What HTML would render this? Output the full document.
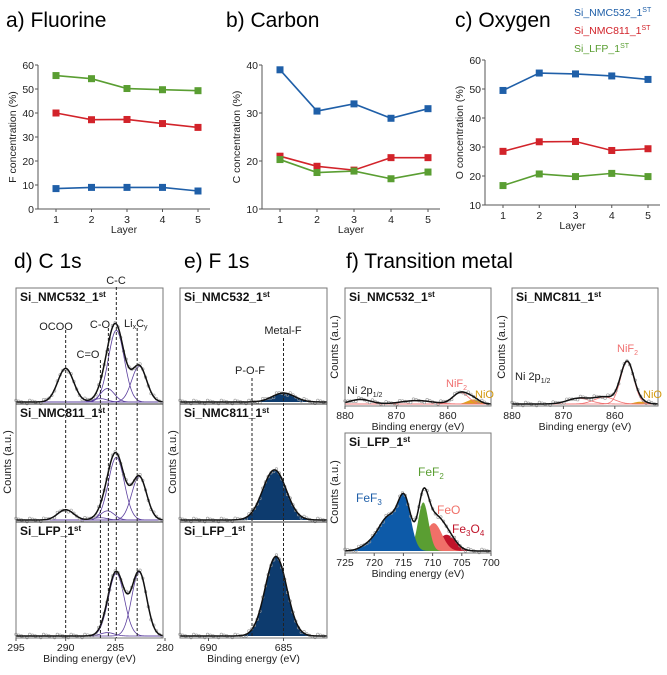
<!DOCTYPE html>
<html><head><meta charset="utf-8">
<style>
body{margin:0;background:#fff;width:667px;height:670px;overflow:hidden;font-family:"Liberation Sans",sans-serif}
svg text{font-family:"Liberation Sans",sans-serif}
</style></head>
<body>
<svg id="fig" width="667" height="670" viewBox="0 0 667 670" xmlns="http://www.w3.org/2000/svg">
<text x="6" y="27" font-size="21">a) Fluorine</text>
<text x="226" y="27" font-size="21">b) Carbon</text>
<text x="455" y="27" font-size="21">c) Oxygen</text>
<g font-size="10.5">
<text x="574" y="16" fill="#1f5fa8">Si_NMC532_1<tspan font-size="7" dy="-4">ST</tspan></text>
<text x="574" y="34" fill="#d2232a">Si_NMC811_1<tspan font-size="7" dy="-4">ST</tspan></text>
<text x="574" y="52" fill="#5a9e32">Si_LFP_1<tspan font-size="7" dy="-4">ST</tspan></text>
</g>
<text x="14" y="268" font-size="21">d) C 1s</text>
<text x="184" y="268" font-size="21">e) F 1s</text>
<text x="346" y="268" font-size="21">f) Transition metal</text>
<g id="root"></g>
</svg>
<script>
const layers=[1,2,3,4,5];
const fBlue=[8.5,9,9,9,7.5], fRed=[40,37.2,37.3,35.6,34], fGreen=[55.6,54.3,50.2,49.7,49.3];
const cBlue=[39,30.4,31.9,28.9,30.9], cRed=[21,18.9,18.1,20.7,20.7], cGreen=[20.3,17.6,17.9,16.3,17.7];
const oBlue=[49.5,55.5,55.2,54.5,53.3], oRed=[28.5,31.8,31.9,28.8,29.4], oGreen=[16.7,20.7,19.8,20.9,19.8];
const fTicks=[0,10,20,30,40,50,60], cTicks=[10,20,30,40], oTicks=[10,20,30,40,50,60];
// XPS peaks: [center eV, amplitude (fraction of panel height), sigma eV]
const c1sNMC532=[[290,0.3,0.8],[286.5,0.03,0.7],[285.8,0.12,0.7],[284.9,0.64,0.8],[282.6,0.32,0.75]];
const c1sNMC811=[[290,0.09,0.8],[286.5,0.02,0.7],[285.8,0.08,0.7],[284.9,0.55,0.8],[282.6,0.38,0.75]];
const c1sLFP=[[285.8,0.03,0.7],[284.9,0.56,0.8],[282.6,0.57,0.75]];
const f1sNMC532=[[685,0.08,0.75]];
const f1sNMC811=[[685.6,0.44,0.78]];
const f1sLFP=[[685.5,0.71,0.72]];
const niNMC532=[[877,0.04,2],[866,0.03,3],[857.5,0.1,1.5],[855,0.04,1.2]];
const niNMC811=[[876.5,0.11,1.6],[867,0.05,2.2],[862,0.06,2],[857.6,0.37,1.3],[855,0.02,1.2]];
const feF3=[[717.5,0.28,1.6],[714.8,0.42,1.1],[720.5,0.06,1.6]];
const feF2=[[711.6,0.42,0.9]];
const feO=[[709.8,0.24,1.4]];
const fe3O4=[[707.6,0.14,1.5]];

const NS="http://www.w3.org/2000/svg", root=document.getElementById('root');
function el(t,a,p){const e=document.createElementNS(NS,t);for(const k in a)e.setAttribute(k,a[k]);(p||root).appendChild(e);return e;}
function txt(x,y,s,a,p){const e=el('text',Object.assign({x:x,y:y,'font-size':10.5,fill:'#222'},a||{}),p);e.textContent=s;return e;}

function lineChart(name,x0,x1,y0,y1,ymin,ymax,ticks,ylabel,series){
  const g=el('g',{});  
  const sx=v=>x0+18+(v-1)*(x1-x0-30)/4, sy=v=>y1-(v-ymin)/(ymax-ymin)*(y1-y0);
  el('path',{d:`M${x0},${y0}V${y1}H${x1}`,stroke:'#555',fill:'none','stroke-width':1},g);
  ticks.forEach(t=>{el('line',{x1:x0-3,x2:x0,y1:sy(t),y2:sy(t),stroke:'#555'},g);const l=txt(x0-4,sy(t)+4,String(t),{'text-anchor':'end'},g);});
  layers.forEach(t=>{el('line',{x1:sx(t),x2:sx(t),y1:y1,y2:y1+3,stroke:'#555'},g);const l=txt(sx(t),y1+14,String(t),{'text-anchor':'middle'},g);});
  const xl=txt((x0+x1)/2,y1+24,'Layer',{'text-anchor':'middle'},g);
  const yl=txt(0,0,ylabel,{'text-anchor':'middle',transform:`translate(${x0-22},${(y0+y1)/2}) rotate(-90)`},g);
  series.forEach(([vals,col,sn])=>{
    const pl=el('polyline',{points:vals.map((v,i)=>sx(layers[i])+','+sy(v)).join(' '),fill:'none',stroke:col,'stroke-width':1.6},g);
    
    vals.forEach((v,i)=>{const r=el('rect',{x:sx(layers[i])-3.5,y:sy(v)-3.5,width:7,height:7,fill:col},g);});
  });
}
const B='#1f5fa8',R='#d2232a',G='#5a9e32';
lineChart('fluorine-chart',38,210,65,209,0,60,fTicks,'F concentration (%)',[[fGreen,G,'lfp'],[fRed,R,'nmc811'],[fBlue,B,'nmc532']]);
lineChart('carbon-chart',262,440,65,209,10,40,cTicks,'C concentration (%)',[[cBlue,B,'nmc532'],[cRed,R,'nmc811'],[cGreen,G,'lfp']]);
lineChart('oxygen-chart',485,660,60,205,10,60,oTicks,'O concentration (%)',[[oBlue,B,'nmc532'],[oRed,R,'nmc811'],[oGreen,G,'lfp']]);

function gauss(e,p){return p[1]*Math.exp(-((e-p[0])**2)/(2*p[2]*p[2]));}
function sumP(e,ps){return ps.reduce((s,p)=>s+gauss(e,p),0);}
function spectrum(name,x0,x1,y0,y1,eL,eR,groups,label){
  const g=el('g',{});
  const sx=e=>x0+(eL-e)/(eL-eR)*(x1-x0), H=y1-y0-4, sy=v=>y1-2-v*H;
  const N=160, es=[];for(let i=0;i<=N;i++)es.push(eL+(eR-eL)*i/N);
  const all=[];groups.forEach(gr=>all.push(...gr.peaks));
  groups.forEach(gr=>{
    if(gr.fill){const d='M'+sx(eL)+','+sy(0)+es.map(e=>'L'+sx(e)+','+sy(sumP(e,gr.peaks))).join('')+'L'+sx(eR)+','+sy(0)+'Z';
      const p=el('path',{d:d,fill:gr.fill,stroke:'none'},g);}
    else gr.peaks.forEach(pk=>{const p=el('path',{d:es.map((e,i)=>(i?'L':'M')+sx(e)+','+sy(gauss(e,pk))).join(''),fill:'none',stroke:gr.stroke,'stroke-width':0.8},g);});
  });
  es.forEach((e,i)=>{if(i%3==0){el('circle',{cx:sx(e),cy:sy(sumP(e,all))+((i*7)%5-2)*0.8,r:1.3,fill:'none',stroke:'#999','stroke-width':0.6},g);}});
  const env=el('path',{d:es.map((e,i)=>(i?'L':'M')+sx(e)+','+sy(sumP(e,all))).join(''),fill:'none',stroke:'#111','stroke-width':1.5},g);
  
  if(label){const t=txt(x0+4,y0+13,label,{'font-weight':'bold','font-size':12,fill:'#111'},g);t.innerHTML=label+'<tspan font-size="8" dy="-4">st</tspan>';}
  return {g,sx};
}
function box(name,x0,y0,x1,y1){const r=el('rect',{x:x0,y:y0,width:x1-x0,height:y1-y0,fill:'none',stroke:'#777','stroke-width':1});}
function xaxis(x0,x1,y,eL,eR,ticks){const sx=e=>x0+(eL-e)/(eL-eR)*(x1-x0);
  ticks.forEach(t=>{el('line',{x1:sx(t),x2:sx(t),y1:y,y2:y+3,stroke:'#555'});const l=txt(sx(t),y+13,String(t),{'text-anchor':'middle'});});
  const a=txt((x0+x1)/2,y+24,'Binding energy (eV)',{'text-anchor':'middle'});}
function ylab(x,y){const l=txt(0,0,'Counts (a.u.)',{'text-anchor':'middle',transform:`translate(${x},${y}) rotate(-90)`,'font-size':11});}

// d) C 1s
const dL=295,dR=280.2,dx0=16,dx1=163;
spectrum('c1s-nmc532',dx0,dx1,288,404,dL,dR,[{n:'c1s',peaks:c1sNMC532,stroke:'#5b3f9e'}],'Si_NMC532_1');
spectrum('c1s-nmc811',dx0,dx1,404,522,dL,dR,[{n:'c1s',peaks:c1sNMC811,stroke:'#5b3f9e'}],'Si_NMC811_1');
spectrum('c1s-lfp',dx0,dx1,522,638,dL,dR,[{n:'c1s',peaks:c1sLFP,stroke:'#5b3f9e'}],'Si_LFP_1');
box('c1s-frame',dx0,288,dx1,638);el('line',{x1:dx0,x2:dx1,y1:404,y2:404,stroke:'#333'});el('line',{x1:dx0,x2:dx1,y1:522,y2:522,stroke:'#333'});
const dsx=e=>dx0+(dL-e)/(dL-dR)*(dx1-dx0);
[[290,330],[286.5,360],[285.7,328],[284.9,287],[282.8,328]].forEach(([e,t])=>{const l=el('line',{x1:dsx(e),x2:dsx(e),y1:t,y2:638,stroke:'#222','stroke-dasharray':'3,2'});});
txt(56,330,'OCOO',{'text-anchor':'middle','font-size':11});txt(88,358,'C=O',{'text-anchor':'middle','font-size':11});
txt(100,328,'C-O',{'text-anchor':'middle','font-size':11});txt(116,284,'C-C',{'text-anchor':'middle','font-size':11});
const lx=txt(124,327,'',{'font-size':11});lx.innerHTML='Li<tspan font-size="7" dy="2">x</tspan><tspan dy="-2">C</tspan><tspan font-size="7" dy="2">y</tspan>';
xaxis(dx0,dx1,638,dL,dR,[295,290,285,280]);ylab(11,462);

// e) F 1s
const eL=691.9,eR=682.1,ex0=180,ex1=327;
spectrum('f1s-nmc532',ex0,ex1,288,404,eL,eR,[{n:'metal-f',peaks:f1sNMC532,fill:'#0d3b6e'}],'Si_NMC532_1');
spectrum('f1s-nmc811',ex0,ex1,404,522,eL,eR,[{n:'metal-f',peaks:f1sNMC811,fill:'#0d3b6e'}],'Si_NMC811_1');
spectrum('f1s-lfp',ex0,ex1,522,638,eL,eR,[{n:'metal-f',peaks:f1sLFP,fill:'#0d3b6e'}],'Si_LFP_1');
box('f1s-frame',ex0,288,ex1,638);el('line',{x1:ex0,x2:ex1,y1:404,y2:404,stroke:'#333'});el('line',{x1:ex0,x2:ex1,y1:522,y2:522,stroke:'#333'});
const esx=e=>ex0+(eL-e)/(eL-eR)*(ex1-ex0);
[[687.1,378],[685,338]].forEach(([e,t])=>{const l=el('line',{x1:esx(e),x2:esx(e),y1:t,y2:638,stroke:'#222','stroke-dasharray':'3,2'});});
txt(250,374,'P-O-F',{'text-anchor':'middle','font-size':11});txt(283,334,'Metal-F',{'text-anchor':'middle','font-size':11});
xaxis(ex0,ex1,638,eL,eR,[690,685]);ylab(176,462);

// f) transition metal
spectrum('ni-nmc532',345,491,288,406,880,851.6,[{n:'nio',peaks:[niNMC532[3]],fill:'#e0a020'},{n:'nif2',peaks:niNMC532.slice(0,3),stroke:'#f07070'}],'Si_NMC532_1');
box('ni-nmc532-frame',345,288,491,406);xaxis(345,491,406,880,851.6,[880,870,860]);ylab(338,347);
txt(347,394,'',{'font-size':11}).innerHTML='Ni 2p<tspan font-size="7" dy="3">1/2</tspan>';
txt(446,387,'',{'font-size':11,fill:'#f07070'}).innerHTML='NiF<tspan font-size="7" dy="3">2</tspan>';
txt(475,398,'NiO',{'font-size':11,fill:'#d49a10'});
spectrum('ni-nmc811',512,658,288,406,880,851.6,[{n:'nio',peaks:[niNMC811[4]],fill:'#e0a020'},{n:'nif2',peaks:niNMC811.slice(1,4),stroke:'#f07070'}],'Si_NMC811_1');
box('ni-nmc811-frame',512,288,658,406);xaxis(512,658,406,880,851.6,[880,870,860]);ylab(505,347);
txt(515,380,'',{'font-size':11}).innerHTML='Ni 2p<tspan font-size="7" dy="3">1/2</tspan>';
txt(617,352,'',{'font-size':11,fill:'#f07070'}).innerHTML='NiF<tspan font-size="7" dy="3">2</tspan>';
txt(643,398,'NiO',{'font-size':11,fill:'#d49a10'});
spectrum('fe-lfp',345,491,433,553,725,700,[{n:'fe3o4',peaks:fe3O4,fill:'#c0142a'},{n:'feo',peaks:feO,fill:'#f07068'},{n:'fef2',peaks:feF2,fill:'#5a9e32'},{n:'fef3',peaks:feF3,fill:'#0d5aa8'}],'Si_LFP_1');
box('fe-lfp-frame',345,433,491,553);xaxis(345,491,553,725,700,[725,720,715,710,705,700]);ylab(338,492);
txt(356,502,'',{'font-size':12,fill:'#1f5fa8'}).innerHTML='FeF<tspan font-size="8" dy="3">3</tspan>';
txt(418,476,'',{'font-size':12,fill:'#5a9e32'}).innerHTML='FeF<tspan font-size="8" dy="3">2</tspan>';
txt(437,514,'FeO',{'font-size':12,fill:'#f07068'});
txt(452,533,'',{'font-size':12,fill:'#c0142a'}).innerHTML='Fe<tspan font-size="8" dy="3">3</tspan><tspan dy="-3">O</tspan><tspan font-size="8" dy="3">4</tspan>';
</script>
</body></html>
